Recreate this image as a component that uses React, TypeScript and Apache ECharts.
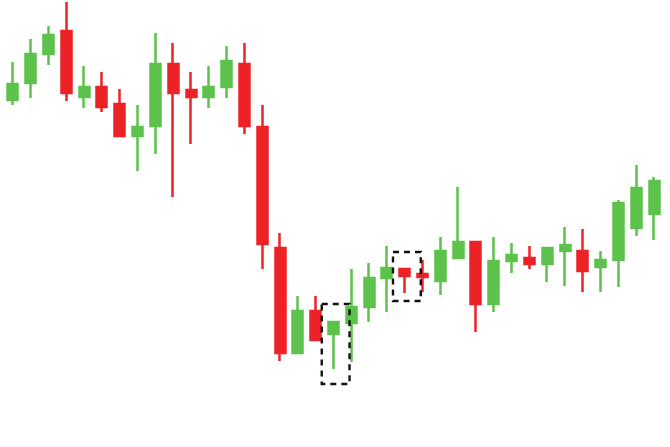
import React, { useEffect, useRef } from "react";
import * as echarts from "echarts";

// Candles: open, close, low, high (price units)
const categories = Array.from({ length: 37 }, (_, i) => `D${i + 1}`);
const opens = [347, 364, 393, 416, 350, 360, 343, 311, 321, 383, 357, 350, 360, 383, 320, 199, 94, 136, 113, 124, 140, 169, 178, 173, 166, 189, 205, 143, 186, 189, 183, 196, 196, 180, 187, 219, 233];
const closes = [363, 393, 412, 354, 360, 340, 311, 320, 383, 354, 350, 360, 386, 321, 203, 94, 136, 107, 125, 140, 169, 179, 171, 170, 196, 205, 143, 186, 192, 183, 199, 202, 176, 187, 244, 259, 266];
const lows = [342, 349, 382, 346, 339, 335, 311, 276, 293, 250, 303, 339, 349, 313, 178, 86, 94, 107, 78, 85, 125, 135, 154, 155, 152, 189, 115, 135, 174, 178, 165, 161, 155, 155, 160, 211, 207];
const highs = [385, 408, 421, 445, 381, 375, 358, 342, 414, 404, 375, 381, 401, 404, 342, 214, 151, 151, 125, 178, 184, 201, 178, 187, 210, 260, 205, 210, 204, 201, 199, 220, 218, 196, 247, 282, 270];

// Highlight boxes: [firstCandleIndex, lastCandleIndex, lowPrice, highPrice]
const highlights = [
  [18, 18, 63, 143],
  [22, 22, 146, 195],
];

export default function App() {
  const ref = useRef<HTMLDivElement>(null);
  useEffect(() => {
    if (!ref.current) return;
    const chart = echarts.init(ref.current, undefined, { renderer: "svg" });
    const candleData = categories.map((_, i) => [opens[i], closes[i], lows[i], highs[i]]);
    chart.setOption({
      animation: false,
      backgroundColor: "#ffffff",
      grid: { left: 4, right: 7, top: 0, bottom: 0 },
      xAxis: {
        type: "category",
        data: categories,
        show: false,
        boundaryGap: true,
      },
      yAxis: {
        type: "value",
        min: 0,
        max: 447,
        show: false,
        splitLine: { show: false },
      },
      series: [
        {
          type: "candlestick",
          data: candleData,
          barWidth: 10.5,
          itemStyle: {
            color: "#5cc24b",
            color0: "#ec2227",
            borderColor: "#5cc24b",
            borderColor0: "#ec2227",
            borderWidth: 2.5,
          },
        },
        {
          type: "custom",
          data: highlights,
          encode: { x: [0, 1], y: [2, 3] },
          z: 10,
          renderItem: (params: any, api: any) => {
            const i0 = api.value(0);
            const i1 = api.value(1);
            const lo = api.value(2);
            const hi = api.value(3);
            const band = api.size([1, 0])[0];
            const pTop = api.coord([i0, hi]);
            const pBot = api.coord([i1, lo]);
            const x = pTop[0] - 0.66 * band;
            const w = pBot[0] - pTop[0] + 1.56 * band;
            return {
              type: "rect",
              shape: { x, y: pTop[1], width: w, height: pBot[1] - pTop[1] },
              style: { fill: "none", stroke: "#111111", lineWidth: 2.4, lineDash: [6, 5] },
            };
          },
        },
      ],
    });
    return () => chart.dispose();
  }, []);
  return (
    <div
      ref={ref}
      style={{ position: "fixed", left: 0, top: 0, width: 670, height: 447, background: "#fff" }}
    />
  );
}
